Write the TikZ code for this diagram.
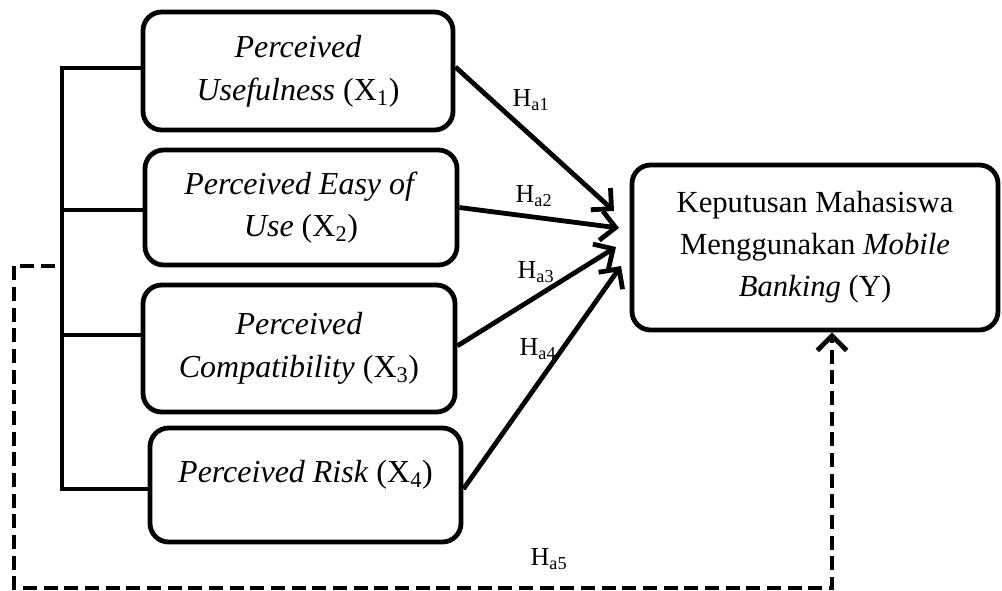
\documentclass[tikz,border=0pt]{standalone}
\usepackage{fontspec}
\setmainfont{Liberation Serif}
\usetikzlibrary{arrows.meta}
\begin{document}
\begin{tikzpicture}[x=0.75pt,y=-0.75pt,
  box/.style={draw,line width=3.6pt,rounded corners=14pt,align=center,
    font=\fontsize{24}{32}\selectfont,inner sep=0pt},
  txt/.style={align=center,font=\fontsize{24}{32}\selectfont,inner sep=0pt},
  link/.style={line width=3.6pt},
  arr/.style={line width=3.6pt,-{Straight Barb[length=11pt,width=22pt]}},
  dsh/.style={line width=3.6pt,dash pattern=on 10.5pt off 5pt,-{Straight Barb[length=11pt,width=22pt]}},
  lab/.style={font=\fontsize{19.5}{22}\selectfont,inner sep=0pt}]
\useasboundingbox (0,0) rectangle (1002,590);
% boxes
\node[box,minimum width=232.5pt,minimum height=88.5pt] (x1) at (298,71)
  {\textit{Perceived}\\\textit{Usefulness} (X\textsubscript{1})};
\node[box,minimum width=234pt,minimum height=86.25pt] (x2) at (301,207.5)
  {\textit{Perceived Easy of}\\\textit{Use} (X\textsubscript{2})};
\node[box,minimum width=234pt,minimum height=95.25pt] (x3) at (299,348.5)
  {\textit{Perceived}\\\textit{Compatibility} (X\textsubscript{3})};
\node[box,minimum width=233.25pt,minimum height=85.5pt] (x4) at (305.5,485) {};
\node[txt] (x4t) at (305.5,475) {\textit{Perceived Risk} (X\textsubscript{4})};
\node[box,font=\fontsize{23}{31.5}\selectfont,minimum width=274.5pt,minimum height=123.75pt] (y) at (815,247.5)
  {Keputusan Mahasiswa\\Menggunakan \textit{Mobile}\\\textit{Banking} (Y)};
% bracket
\coordinate (c1) at (62,68);
\coordinate (c2) at (62,210);
\coordinate (c3) at (62,335);
\coordinate (c4) at (62,489);
\draw[link] (x1.west |- c1) -- (c1) -- (c4) -- (x4.west |- c4);
\draw[link] (x2.west |- c2) -- (c2);
\draw[link] (x3.west |- c3) -- (c3);
% arrows
\coordinate (t1) at (614,211);
\coordinate (t2) at (619,228);
\coordinate (t3) at (616,247);
\coordinate (t4) at (621,266);
\draw[arr] ([yshift=3pt]x1.east) -- (t1);
\draw[arr] (x2.east) -- (t2);
\draw[arr] ([yshift=2pt]x3.east) -- (t3);
\draw[arr] ([yshift=-3pt]x4.east) -- (t4);
% labels
\node[lab] (h1) at (531,100) {H\textsubscript{a1}};
\node[lab] (h2) at (534,196) {H\textsubscript{a2}};
\node[lab] (h3) at (536,272) {H\textsubscript{a3}};
\node[lab] (h4) at (538,349) {H\textsubscript{a4}};
\node[lab] (h5) at (549,559) {H\textsubscript{a5}};
% dashed path
\coordinate (d0) at (55,266);
\coordinate (d1) at (14,266);
\coordinate (d2) at (14,588);
\coordinate (d3) at (832,588);
\draw[dsh] (d0) -- (d1) -- (d2) -- (d3) -- (d3 |- y.south);
\end{tikzpicture}
\end{document}
